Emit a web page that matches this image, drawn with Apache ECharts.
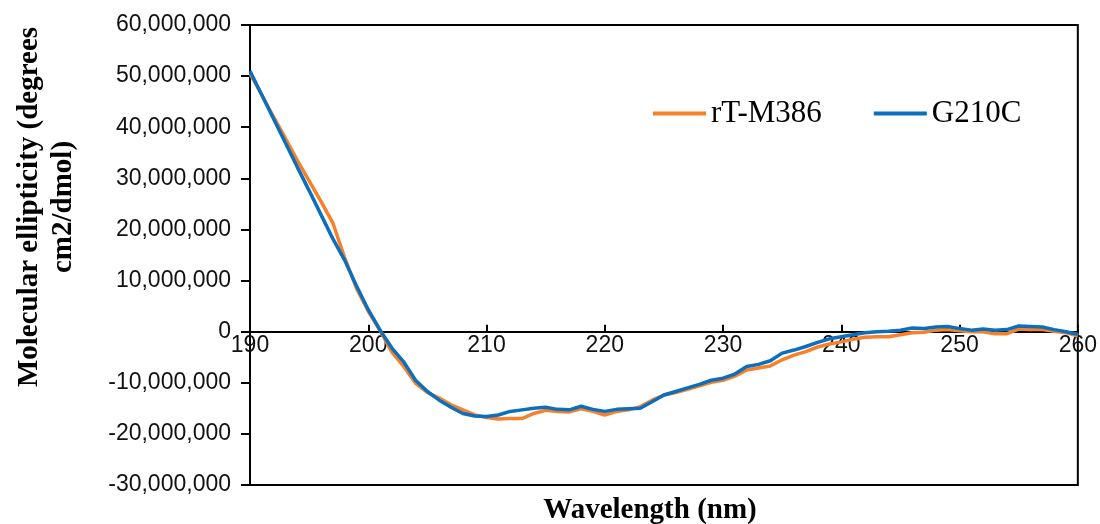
<!DOCTYPE html>
<html>
<head>
<meta charset="utf-8">
<script src="https://cdn.jsdelivr.net/npm/echarts@6/dist/echarts.min.js"></script>
<style>
  html, body { margin: 0; padding: 0; background: #fff; }
  #chart { width: 1100px; height: 524px; }
</style>
</head>
<body>
<div id="chart"></div>
<script>
// wavelength (nm)
const wavelength = [
  190, 191, 192, 193, 194, 195, 196, 197, 198, 199,
  200, 201, 202, 203, 204, 205, 206, 207, 208, 209,
  210, 211, 212, 213, 214, 215, 216, 217, 218, 219,
  220, 221, 222, 223, 224, 225, 226, 227, 228, 229,
  230, 231, 232, 233, 234, 235, 236, 237, 238, 239,
  240, 241, 242, 243, 244, 245, 246, 247, 248, 249,
  250, 251, 252, 253, 254, 255, 256, 257, 258, 259,
  260
];

// molar ellipticity, in millions
const rtM386 = [
  50.5, 46.3, 42.0, 37.8, 33.5, 29.5, 25.5, 21.3, 14.5, 8.5,
  4.0, 0.2, -4.0, -6.8, -10.1, -11.9, -13.0, -14.3, -15.3, -16.3,
  -16.8, -17.1, -17.0, -17.0, -16.0, -15.4, -15.6, -15.7, -15.1, -15.6,
  -16.3, -15.6, -15.3, -14.7, -13.4, -12.4, -11.9, -11.3, -10.6, -9.9,
  -9.5, -8.7, -7.5, -7.1, -6.7, -5.5, -4.6, -3.9, -3.0, -2.4,
  -2.0, -1.5, -1.1, -1.0, -1.0, -0.6, -0.2, -0.1, 0.3, 0.4,
  0.2, 0.0, 0.0, -0.4, -0.4, 0.5, 0.4, 0.4, 0.1, -0.2,
  -0.85
];
const g210c = [
  51.0, 46.3, 41.6, 36.9, 32.2, 27.6, 22.9, 18.2, 14.0, 9.0,
  4.3, 0.3, -3.2, -5.9, -9.5, -11.7, -13.4, -14.8, -16.0, -16.5,
  -16.6, -16.3, -15.6, -15.3, -15.0, -14.8, -15.2, -15.3, -14.6, -15.2,
  -15.6, -15.2, -15.1, -15.0, -13.7, -12.4, -11.7, -11.0, -10.3, -9.5,
  -9.1, -8.3, -6.8, -6.4, -5.7, -4.2, -3.6, -2.9, -2.1, -1.4,
  -1.0, -0.6, -0.2, 0.0, 0.1, 0.3, 0.7, 0.6, 0.9, 1.0,
  0.6, 0.3, 0.5, 0.3, 0.4, 1.1, 1.0, 0.9, 0.4, 0.0,
  -0.5
];

const seriesNames = ['rT-M386', 'G210C'];
const colors = ['#F7802A', '#0B6FBE'];

const toPairs = arr => wavelength.map((w, i) => [w, arr[i] * 1e6]);

const sans = '"Liberation Sans", Arial, sans-serif';
const serif = '"Liberation Serif", "Times New Roman", serif';

// grid geometry: y range -30M..60M, zero sits 60/90 of the way down
const gridTop = 25, gridBottom = 39, chartH = 524;
const plotH = chartH - gridTop - gridBottom;
const zeroShift = plotH * 30 / 90;

const chart = echarts.init(document.getElementById('chart'));
chart.setOption({
  animation: false,
  color: colors,
  grid: {
    left: 250, right: 20, top: gridTop, bottom: gridBottom,
    show: true, borderColor: '#000', borderWidth: 2, backgroundColor: 'transparent',
  },
  legend: {
    left: 648, top: 93,
    itemWidth: 53, itemHeight: 4, itemGap: 52,
    icon: 'rect',
    textStyle: { fontFamily: serif, fontSize: 31, color: '#000' },
    data: seriesNames,
  },
  xAxis: {
    type: 'value', min: 190, max: 260, interval: 10,
    offset: -zeroShift,
    axisLine: { onZero: false, lineStyle: { color: '#000', width: 2 } },
    axisTick: { inside: true, length: 7, lineStyle: { color: '#000', width: 2 } },
    axisLabel: { fontFamily: sans, fontSize: 23, color: '#111', margin: 2 },
    splitLine: { show: false },
  },
  yAxis: {
    type: 'value', min: -30000000, max: 60000000, interval: 10000000,
    axisLine: { show: true, lineStyle: { color: '#000', width: 2 } },
    axisTick: { show: true, length: 9, lineStyle: { color: '#000', width: 2 } },
    axisLabel: {
      fontFamily: sans, fontSize: 23, color: '#111', margin: 19,
      formatter: v => v.toLocaleString('en-US'),
    },
    splitLine: { show: false },
  },
  graphic: [
    {
      type: 'text', x: 47, y: 207, rotation: Math.PI / 2,
      style: {
        text: 'Molecular ellipticity (degrees\ncm2/dmol)',
        font: 'bold 29px ' + serif, fill: '#000',
        align: 'center', verticalAlign: 'middle', lineHeight: 34,
      },
    },
    {
      type: 'text', x: 650, y: 511,
      style: {
        text: 'Wavelength (nm)',
        font: 'bold 29px ' + serif, fill: '#000',
        align: 'center', verticalAlign: 'middle',
      },
    },
  ],
  series: [
    {
      name: seriesNames[0], type: 'line', data: toPairs(rtM386),
      showSymbol: false, lineStyle: { width: 3.5, color: colors[0] }, z: 2,
    },
    {
      name: seriesNames[1], type: 'line', data: toPairs(g210c),
      showSymbol: false, lineStyle: { width: 3.5, color: colors[1] }, z: 3,
    },
  ],
});
</script>
</body>
</html>
